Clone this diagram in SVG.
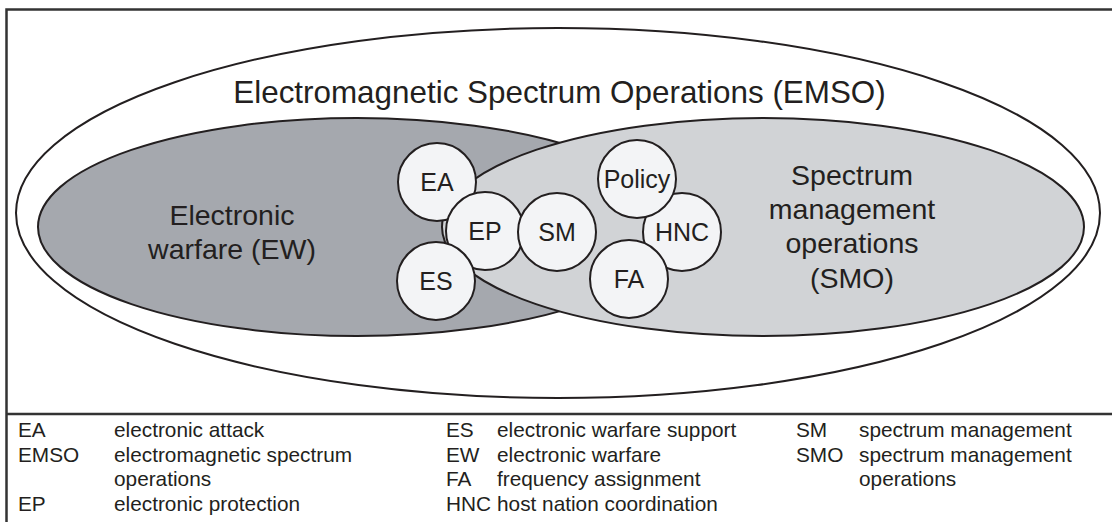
<svg xmlns="http://www.w3.org/2000/svg" width="1112" height="522" viewBox="0 0 1112 522">
<style>
.frame{fill:none;stroke:#333;stroke-width:2.5}
.ell{stroke:#231f20;stroke-width:2}
.c{fill:#f3f4f6;stroke:#231f20;stroke-width:2}
.t{font-family:"Liberation Sans",Arial,Helvetica,sans-serif;fill:#231f20}
.cl{font-size:25px;text-anchor:middle}
.big{font-size:28.5px;text-anchor:middle}
.leg{font-size:20.8px}
</style>
<rect width="1112" height="522" fill="#fff"/>
<g id="frame">
<path class="frame" d="M6.5,522 V9.5 H1112 M6.5,414 H1112"/>
</g>
<g id="emso">
<ellipse cx="558" cy="213" rx="542" ry="185" fill="#fff" class="ell"/>
<text class="t" x="559.5" y="103" font-size="31.4" text-anchor="middle">Electromagnetic Spectrum Operations (EMSO)</text>
</g>
<g id="ew">
<ellipse cx="357" cy="227" rx="319" ry="109" fill="#a5a8ae" class="ell"/>
<text class="t big" x="232" y="225">Electronic</text>
<text class="t big" x="232" y="259">warfare (EW)</text>
</g>
<g id="smo">
<ellipse cx="763" cy="227" rx="321" ry="109" fill="#d1d3d6" class="ell"/>
<text class="t big" x="852" y="185">Spectrum</text>
<text class="t big" x="852" y="219">management</text>
<text class="t big" x="852" y="253">operations</text>
<text class="t big" x="852" y="288">(SMO)</text>
</g>
<g id="connectors"></g>
<g id="ea"><circle class="c" cx="437" cy="182" r="39"/><text class="t cl" x="437" y="191">EA</text></g>
<g id="ep"><circle class="c" cx="485" cy="231" r="39"/><text class="t cl" x="485" y="240">EP</text></g>
<g id="es"><circle class="c" cx="436" cy="281" r="39"/><text class="t cl" x="436" y="290">ES</text></g>
<g id="sm"><circle class="c" cx="557" cy="232" r="39"/><text class="t cl" x="557" y="241">SM</text></g>
<g id="hnc"><circle class="c" cx="682" cy="232" r="39"/><text class="t cl" x="682" y="241">HNC</text></g>
<g id="policy"><circle class="c" cx="637" cy="179" r="39"/><text class="t cl" x="637" y="188">Policy</text></g>
<g id="fa"><circle class="c" cx="629" cy="279" r="39"/><text class="t cl" x="629" y="288">FA</text></g>
<g id="legend" class="t leg">
<text x="18" y="437">EA</text><text x="114" y="437">electronic attack</text>
<text x="18" y="461.5">EMSO</text><text x="114" y="461.5">electromagnetic spectrum</text>
<text x="114" y="486">operations</text>
<text x="18" y="510.5">EP</text><text x="114" y="510.5">electronic protection</text>
<text x="446" y="437">ES</text><text x="497" y="437">electronic warfare support</text>
<text x="446" y="461.5">EW</text><text x="497" y="461.5">electronic warfare</text>
<text x="446" y="486">FA</text><text x="497" y="486">frequency assignment</text>
<text x="446" y="510.5">HNC</text><text x="497" y="510.5">host nation coordination</text>
<text x="796" y="437">SM</text><text x="859" y="437">spectrum management</text>
<text x="796" y="461.5">SMO</text><text x="859" y="461.5">spectrum management</text>
<text x="859" y="486">operations</text>
</g>
</svg>
